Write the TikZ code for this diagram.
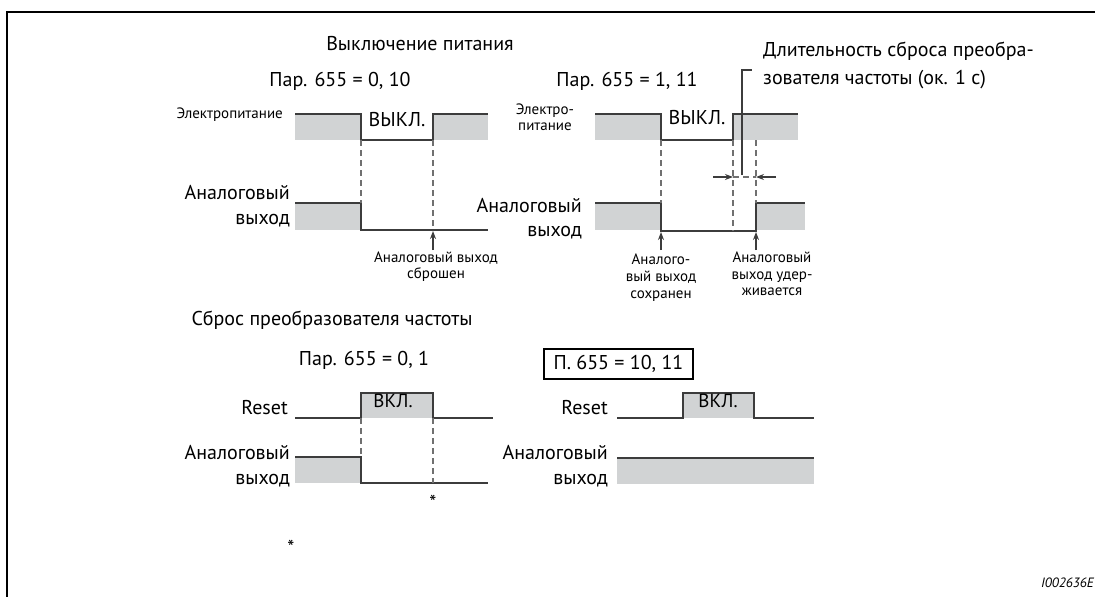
\documentclass[tikz,border=0pt]{standalone}
\usepackage{fontspec}
\setmainfont{PT Sans}
\usetikzlibrary{arrows.meta}
\definecolor{sig}{HTML}{3C3C3C}
\definecolor{fillg}{HTML}{D1D3D4}
\definecolor{dsh}{HTML}{707070}
\begin{document}
\begin{tikzpicture}[x=1pt,y=-1pt,
  sigline/.style={draw=sig, line width=1.6pt},
  dashl/.style={draw=dsh, line width=1.1pt, dash pattern=on 6pt off 4pt},
  big/.style={font=\fontsize{20}{22}\selectfont, inner sep=0pt},
  small/.style={font=\fontsize{15}{17}\selectfont, inner sep=0pt},
  tiny/.style={font=\fontsize{15}{17}\selectfont, inner sep=0pt},
  arr/.style={-{Stealth[length=8pt,width=6pt]}, draw=sig, line width=1.3pt},
]
\useasboundingbox (0,0) rectangle (1095,597);
\draw[line width=2.4pt] (7,597) -- (7,12) -- (1095,12);

% ---------- titles ----------
\node[big, anchor=mid] (t1) at (420,48) {Выключение питания};
\node[big, anchor=mid] (p1) at (340,84) {Пар. 655 = 0, 10};
\node[big, anchor=mid] (p2) at (627,84) {Пар. 655 = 1, 11};
\node[big, anchor=mid west] (dur1) at (763,54) {Длительность сброса преобра-};
\node[big, anchor=mid west] (dur2) at (763,82) {зователя частоты (ок. 1 с)};

% ---------- top left: power ----------
\fill[fillg] (295,114) rectangle (361,140);
\fill[fillg] (433,114) rectangle (488,140);
\draw[sigline] (295,114) -- (361,114) -- (361,140) -- (433,140) -- (433,114) -- (488,114);
\node[tiny, anchor=mid east] (el1) at (283,116) {Электропитание};
\node[big, anchor=mid] (off1) at (397,124) {ВЫКЛ.};

% top left: analog
\fill[fillg] (295,203) rectangle (361,230);
\draw[sigline] (295,203) -- (361,203) -- (361,230) -- (488,230);
\node[big, anchor=mid east] (a1) at (290,197) {Аналоговый};
\node[big, anchor=mid east] (a1b) at (290,222) {выход};
\draw[dashl] (361,140) -- (361,203);
\draw[dashl] (433,140) -- (433,230);
\coordinate (r1) at (433,231);
\node[small, anchor=mid] (c1a) at (436,260) {Аналоговый выход};
\node[small, anchor=mid] (c1b) at (436,276) {сброшен};
\draw[arr] (433,250) -- (r1);

% ---------- top right: power ----------
\fill[fillg] (595,114) rectangle (661,140);
\fill[fillg] (733,114) rectangle (798,140);
\draw[sigline] (595,114) -- (661,114) -- (661,140) -- (733,140) -- (733,114) -- (798,114);
\node[tiny, anchor=mid] (el2a) at (545,112) {Электро-};
\node[tiny, anchor=mid] (el2b) at (545,128) {питание};
\node[big, anchor=mid] (off2) at (697,122) {ВЫКЛ.};

% top right: analog
\fill[fillg] (595,203) rectangle (661,230);
\fill[fillg] (756,203) rectangle (805,230);
\draw[sigline] (595,203) -- (661,203) -- (661,231) -- (756,231) -- (756,203) -- (805,203);
\node[big, anchor=mid east] (a2) at (582,210) {Аналоговый};
\node[big, anchor=mid east] (a2b) at (582,234) {выход};
\draw[dashl] (661,140) -- (661,203);
\draw[dashl] (733,140) -- (733,231);
\draw[dashl] (756,140) -- (756,203);
\draw[dashl] (733,177) -- (756,177);
\coordinate (dl) at (733,177);
\coordinate (dr) at (756,177);
\draw[arr] (713,177) -- (dl);
\draw[arr] (776,177) -- (dr);
\draw[draw=sig, line width=1.2pt] (742,175) -- (742,70) -- (752,70);

\coordinate (r2) at (661,232);
\coordinate (r3) at (756,232);
\draw[arr] (661,250) -- (r2);
\draw[arr] (756,250) -- (r3);
\node[small, anchor=mid] (c2a) at (661,262) {Аналого-};
\node[small, anchor=mid] (c2b) at (661,279) {вый выход};
\node[small, anchor=mid] (c2c) at (661,296) {сохранен};
\node[small, anchor=mid] (c3a) at (772,260) {Аналоговый};
\node[small, anchor=mid] (c3b) at (772,277) {выход удер-};
\node[small, anchor=mid] (c3c) at (772,293) {живается};

% ---------- bottom left ----------
\node[big, anchor=mid] (t2) at (332,323) {Сброс преобразователя частоты};
\node[big, anchor=mid] (p3) at (364,363) {Пар. 655 = 0, 1};
\node[big, anchor=mid east] (rs1) at (288,412) {Reset};
\fill[fillg] (361,393) rectangle (433,418);
\draw[sigline] (295,418) -- (361,418) -- (361,393) -- (433,393) -- (433,418) -- (493,418);
\node[font=\fontsize{19}{21}\selectfont, inner sep=0pt, anchor=mid] (on1) at (393,405) {ВКЛ.};
\fill[fillg] (295,457) rectangle (361,483);
\draw[sigline] (295,457) -- (361,457) -- (361,483) -- (488,483);
\node[big, anchor=mid east] (a3) at (290,457) {Аналоговый};
\node[big, anchor=mid east] (a3b) at (290,482) {выход};
\draw[dashl] (361,418) -- (361,457);
\draw[dashl] (433,418) -- (433,483);
\node[big, anchor=center] (s1) at (433,502) {*};
\node[big, anchor=center] (s2) at (291,547) {*};

% ---------- bottom right ----------
\node[big, draw=black, line width=1.2pt, minimum width=149pt, minimum height=30pt, anchor=center] (p4) at (618.5,364) {П. 655 = 10, 11};
\node[big, anchor=mid east] (rs2) at (608,412) {Reset};
\fill[fillg] (683,393) rectangle (754,418);
\draw[sigline] (617,418) -- (683,418) -- (683,393) -- (754,393) -- (754,418) -- (814,418);
\node[font=\fontsize{19}{21}\selectfont, inner sep=0pt, anchor=mid] (on2) at (718,405) {ВКЛ.};
\fill[fillg] (617,458) rectangle (814,484);
\draw[sigline] (617,458) -- (814,458);
\node[big, anchor=mid east] (a4) at (608,457) {Аналоговый};
\node[big, anchor=mid east] (a4b) at (608,482) {выход};

\node[font=\fontsize{13.5}{15}\selectfont\itshape, inner sep=0pt, anchor=mid east] (id) at (1094,585) {I002636E};
\end{tikzpicture}
\end{document}
